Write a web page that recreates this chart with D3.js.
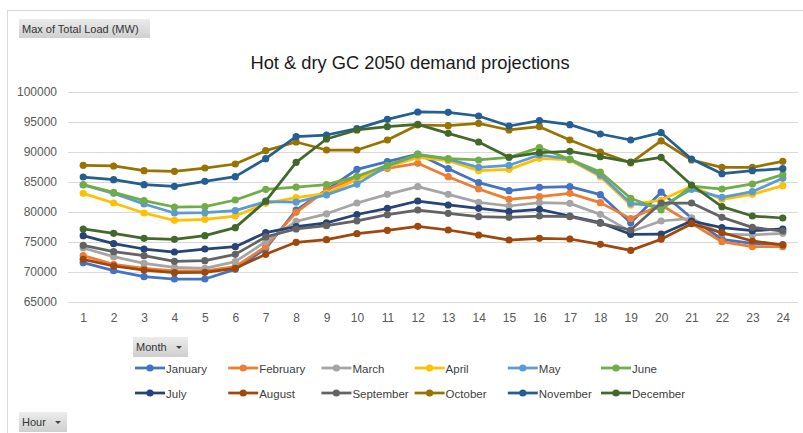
<!DOCTYPE html>
<head>
  <meta charset="utf-8">
  <script src="https://cdn.jsdelivr.net/npm/d3@7"></script>
  <style>
    body { margin: 0; background: #fff; }
    svg { display: block; }
    .ax text { font-family: "Liberation Sans", Arial, sans-serif; font-size: 12px; fill: #595959; }
    .ui { font-family: "Liberation Sans", Arial, sans-serif; font-size: 11px; fill: #333; }
    .leg text { font-family: "Liberation Sans", Arial, sans-serif; font-size: 11.5px; fill: #404040; }
  </style>
</head>
<body>
<svg width="803" height="433"></svg>
<script>
var hours = d3.range(1, 25)
var months = ['January', 'February', 'March', 'April', 'May', 'June',
              'July', 'August', 'September', 'October', 'November', 'December']
var colors = ['#4472C4', '#ED7D31', '#A5A5A5', '#FFC000', '#5B9BD5', '#70AD47',
              '#264478', '#9E480E', '#636363', '#997300', '#255E91', '#43682B']

var january   = [71560, 70220, 69220, 68830, 68830, 70440, 73900, 80300, 83700, 87100, 88390, 89670, 87220, 84890, 83560, 84110, 84220, 82890, 78200, 83300, 79000, 75440, 74780, 74560]
var february  = [72720, 71280, 70610, 70170, 70170, 70890, 74220, 79940, 83670, 85800, 87280, 88110, 85890, 83830, 82110, 82560, 83110, 81560, 78900, 81170, 78110, 75050, 74220, 74220]
var march     = [74000, 72560, 71440, 70780, 70610, 71720, 75050, 78450, 79700, 81500, 82940, 84220, 82940, 81610, 81000, 81560, 81440, 79610, 76720, 78500, 78940, 76330, 76170, 76440]
var april     = [83110, 81500, 79830, 78610, 78780, 79330, 81440, 82400, 83100, 85400, 87500, 89110, 88560, 86890, 87110, 88940, 88670, 85890, 81170, 82000, 84300, 82110, 82940, 84390]
var may       = [84500, 83110, 81330, 79830, 79890, 80220, 81720, 81650, 82850, 84650, 87670, 89500, 88800, 87440, 87780, 89500, 88800, 86170, 81440, 80900, 83780, 82440, 83390, 85610]
var june      = [84550, 83280, 81890, 80830, 80890, 82000, 83780, 84150, 84560, 85950, 87780, 89600, 88890, 88670, 89100, 90720, 88780, 86670, 82280, 80330, 84330, 83830, 84670, 86220]
var july      = [76060, 74720, 73830, 73330, 73830, 74220, 76560, 77560, 78200, 79580, 80610, 81830, 81170, 80610, 80060, 80440, 79330, 78220, 76280, 76300, 78500, 77390, 76890, 77170]
var august    = [72110, 71000, 70330, 69890, 69940, 70610, 72950, 74950, 75380, 76380, 76950, 77610, 77000, 76170, 75330, 75610, 75500, 74610, 73600, 75470, 78050, 76560, 75170, 74500]
var september = [74450, 73390, 72720, 71780, 71890, 72940, 75850, 77170, 77720, 78530, 79560, 80330, 79780, 79220, 79110, 79330, 79220, 78110, 77000, 81500, 81500, 79110, 77440, 76830]
var october   = [87780, 87670, 86890, 86780, 87330, 88000, 90220, 91670, 90330, 90330, 92000, 94500, 94390, 94780, 93670, 94220, 92000, 90000, 88200, 91850, 88670, 87440, 87440, 88440]
var november  = [85830, 85390, 84560, 84280, 85110, 85890, 88890, 92560, 92830, 93890, 95440, 96670, 96610, 96000, 94330, 95220, 94560, 93000, 92000, 93220, 88830, 86390, 86890, 87220]
var december  = [77170, 76440, 75610, 75440, 76060, 77390, 81800, 88280, 92170, 93670, 94220, 94610, 93110, 91670, 89110, 89890, 90110, 89220, 88300, 89100, 84500, 80890, 79330, 79000]

var yTicks = d3.range(65000, 100001, 5000)

var series = [january, february, march, april, may, june,
              july, august, september, october, november, december]
  .map(function (v, i) { return { name: months[i], color: colors[i], values: v } })

var svg = d3.select('svg')

// chart frame
svg.append('rect')
  .attr('x', 7.5).attr('y', 10.5).attr('width', 820).attr('height', 440)
  .attr('fill', '#fff').attr('stroke', '#d9d9d9')

var defs = svg.append('defs')
var grad = defs.append('linearGradient').attr('id', 'btn').attr('x1', 0).attr('y1', 0).attr('x2', 0).attr('y2', 1)
grad.append('stop').attr('offset', 0).attr('stop-color', '#ececec')
grad.append('stop').attr('offset', 1).attr('stop-color', '#cfcfcf')

function button(x, y, w, h, label, arrow) {
  var g = svg.append('g').attr('transform', 'translate(' + x + ',' + y + ')')
  g.append('rect').attr('width', w).attr('height', h).attr('fill', 'url(#btn)')
  g.append('text').attr('class', 'ui').attr('x', 3).attr('y', h / 2 + 4).text(label)
  if (arrow)
    g.append('path').attr('d', 'M' + (w - 12) + ',' + (h / 2 - 1) + 'l6,0l-3,3z').attr('fill', '#444')
}

button(19, 19, 131, 19, 'Max of Total Load (MW)', false)
button(133, 337, 55, 20, 'Month', true)
button(19, 412, 48, 20, 'Hour', true)

svg.append('text')
  .attr('x', 410).attr('y', 69)
  .attr('text-anchor', 'middle')
  .style('font-family', '"Liberation Sans", Arial, sans-serif')
  .style('font-size', '18.3px')
  .style('fill', '#1a1a1a')
  .text('Hot & dry GC 2050 demand projections')

var x = d3.scalePoint().domain(hours).range([68, 798]).padding(0.5)
var y = d3.scaleLinear().domain([65000, 100000]).range([302, 92])

// gridlines + y labels
var yAxis = svg.append('g').attr('class', 'ax').attr('transform', 'translate(68,0)')
  .call(d3.axisLeft(y).tickValues(yTicks).tickSize(-730).tickPadding(11).tickFormat(d3.format('d')))
yAxis.select('.domain').remove()
yAxis.selectAll('line').attr('stroke', '#d9d9d9')

var xAxis = svg.append('g').attr('class', 'ax').attr('transform', 'translate(0,302)')
  .call(d3.axisBottom(x).tickSize(0).tickPadding(11))
xAxis.select('.domain').remove()

var line = d3.line()
  .x(function (d, i) { return x(hours[i]) })
  .y(function (d) { return y(d) })

var sg = svg.selectAll('.series').data(series).enter().append('g').attr('class', 'series')

sg.append('path')
  .attr('d', function (d) { return line(d.values) })
  .attr('fill', 'none')
  .attr('stroke', function (d) { return d.color })
  .attr('stroke-width', 2.75)
  .attr('stroke-linejoin', 'round')

sg.selectAll('circle').data(function (d) { return d.values.map(function (v) { return { v: v, c: d.color } }) })
  .enter().append('circle')
  .attr('cx', function (d, i) { return x(hours[i]) })
  .attr('cy', function (d) { return y(d.v) })
  .attr('r', 3.6)
  .attr('fill', function (d) { return d.c })

// legend, two rows of six
var leg = svg.selectAll('.leg').data(series).enter().append('g').attr('class', 'leg')
  .attr('transform', function (d, i) { return 'translate(' + (135 + (i % 6) * 93.2) + ',' + (i < 6 ? 368 : 393) + ')' })
leg.append('line').attr('x1', 0).attr('x2', 30)
  .attr('stroke', function (d) { return d.color }).attr('stroke-width', 2.75)
leg.append('circle').attr('cx', 15).attr('r', 3.6).attr('fill', function (d) { return d.color })
leg.append('text').attr('x', 31).attr('y', 4.5).text(function (d) { return d.name })
</script>
</body>
